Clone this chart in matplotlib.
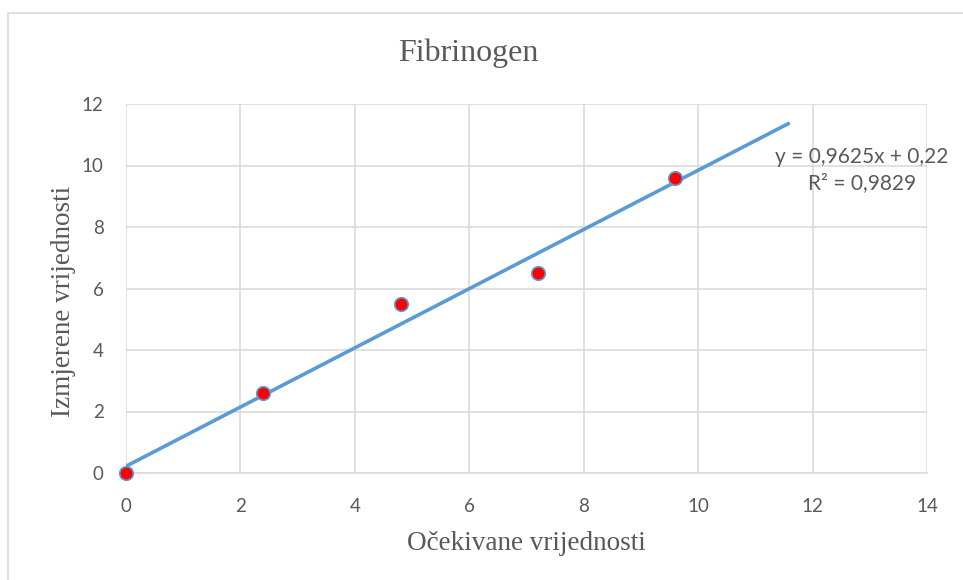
import numpy as np
import matplotlib.pyplot as plt
from matplotlib.patches import Rectangle

# data
ocekivane = [0, 2.4, 4.8, 7.2, 9.6]
izmjerene = [0, 2.6, 5.5, 6.5, 9.6]
x_ticks = [0, 2, 4, 6, 8, 10, 12, 14]
y_ticks = [0, 2, 4, 6, 8, 10, 12]

gray = "#595959"
blue = "#5B9BD5"
W, H = 963, 580

fig = plt.figure(figsize=(W / 100, H / 100), dpi=100)
fig.patches.append(Rectangle((8 / W, -0.05), 1.1, 1 - 13 / H + 0.05,
                             transform=fig.transFigure, fill=False,
                             edgecolor="#D9D9D9", linewidth=1.2))

ax = fig.add_axes([126 / W, 1 - 473 / H, 801 / W, 369 / H])

# linear trendline, forecast forward by 2
k, n = np.polyfit(ocekivane, izmjerene, 1)
pred = np.polyval([k, n], ocekivane)
r2 = 1 - np.sum((np.array(izmjerene) - pred) ** 2) / np.sum((np.array(izmjerene) - np.mean(izmjerene)) ** 2)
xt = np.array([min(ocekivane), max(ocekivane) + 2])
ax.plot(xt, k * xt + n, color=blue, linewidth=2.6, solid_capstyle="butt", zorder=3)

ax.scatter(ocekivane, izmjerene, s=95, color="red", edgecolors=blue,
           linewidths=1.2, zorder=4, clip_on=False)

ax.set_xlim(0, 14)
ax.set_ylim(0, 12)
ax.set_xticks(x_ticks)
ax.set_yticks(y_ticks)
ax.grid(True, color="#D9D9D9", linewidth=1.1)
ax.set_axisbelow(True)
for s in ["top", "right", "left"]:
    ax.spines[s].set_visible(False)
ax.spines["bottom"].set_color("#D9D9D9")
ax.spines["bottom"].set_linewidth(1.1)
ax.tick_params(length=0, labelsize=13.5, labelcolor=gray)
ax.tick_params(axis="x", pad=18)
ax.tick_params(axis="y", pad=16)
for lbl in ax.get_xticklabels() + ax.get_yticklabels():
    lbl.set_fontfamily("Lato")

eq = "y = {:.4f}x + {:.2f}\nR² = {:.4f}".format(k, n, r2).replace(".", ",")
ax.text(12.86, 9.85, eq, ha="center", va="center", multialignment="center",
        fontsize=15, family="Lato", color=gray, linespacing=1.35)

fig.text(468.5 / W, 1 - 53 / H, "Fibrinogen", ha="center", va="center",
         family="Liberation Serif", fontsize=23, color=gray)
fig.text(526 / W, 1 - 543 / H, "Očekivane vrijednosti", ha="center", va="center",
         family="Liberation Serif", fontsize=19.5, color=gray)
fig.text(63 / W, 1 - 301.5 / H, "Izmjerene vrijednosti", ha="center", va="center",
         rotation=90, family="Liberation Serif", fontsize=19.5, color=gray)

fig.savefig("out.png", dpi=100)
